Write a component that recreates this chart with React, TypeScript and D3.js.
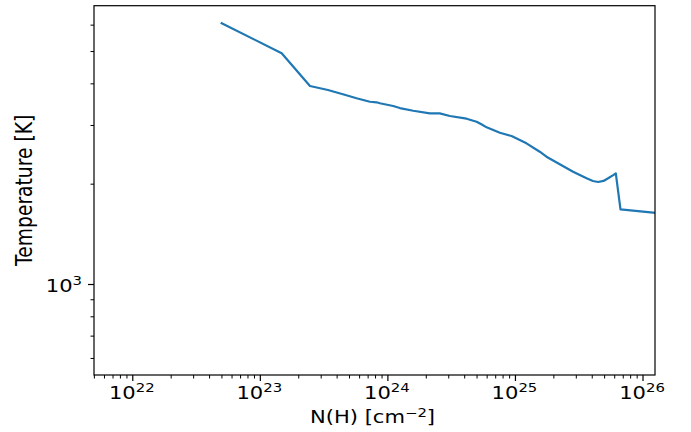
import React from "react";
import * as d3 from "d3";

// Column density N(H) [cm^-2]
const columnDensity: number[] = [
  4.89e22, 1.47e23, 2.45e23, 3.39e23, 4.44e23, 5.68e23, 7.23e23, 8.15e23, 8.65e23,
  1.10e24, 1.24e24, 1.58e24, 2.13e24, 2.55e24, 3.06e24, 4.14e24, 4.96e24, 5.45e24, 5.94e24,
  7.55e24, 9.32e24, 1.22e25, 1.55e25, 1.75e25, 2.83e25, 3.61e25, 4.05e25, 4.45e25, 4.90e25, 5.33e25,
  5.80e25, 6.12e25, 6.66e25, 1.20e26, 1.30e26,
];
// Temperature [K]
const temperature: number[] = [
  6104, 4940, 3941, 3833, 3722, 3621, 3535, 3521, 3497,
  3432, 3384, 3322, 3263, 3263, 3203, 3144, 3079, 3020, 2962,
  2853, 2789, 2652, 2503, 2418, 2180, 2083, 2045, 2030, 2045, 2083,
  2125, 2156, 1681, 1644, 1638,
];

const xMajorExp: number[] = [22, 23, 24, 25, 26];
const yMajorExp: number[] = [3];
const xLabel = "N(H) [cm";
const xLabelSup = "−2";
const yLabel = "Temperature [K]";

const W = 691;
const H = 432;
const L = 94, R = 655, T = 5.7, B = 375;

export default function App() {
  const x = d3.scaleLog().domain([Math.pow(10, 21.696), Math.pow(10, 26.094)]).range([L, R]);
  const y = d3.scaleLog().domain([Math.pow(10, 2.7285), Math.pow(10, 3.8365)]).range([B, T]);

  const pts = columnDensity.map((n, i) => [n, temperature[i]] as [number, number]);
  const line = d3.line<[number, number]>().x((d) => x(d[0])).y((d) => y(d[1]));

  const xMinor: number[] = [];
  for (let e = 21; e <= 26; e++) {
    for (let k = 2; k <= 9; k++) {
      const v = k * Math.pow(10, e);
      const px = x(v);
      if (px >= L && px <= R) xMinor.push(v);
    }
  }
  const yMinor: number[] = [];
  for (let e = 2; e <= 3; e++) {
    for (let k = 2; k <= 9; k++) {
      const v = k * Math.pow(10, e);
      const py = y(v);
      if (py >= T && py <= B) yMinor.push(v);
    }
  }

  const font = "DejaVu Sans, sans-serif";
  const fs = 17;
  const sfs = 12;
  const sx = 1.24;

  return (
    <svg width={W} height={H} style={{ position: "absolute", left: 0, top: 0, background: "#fff" }} fontFamily={font}>
      <defs>
        <clipPath id="plotclip">
          <rect x={L} y={T} width={R - L} height={B - T} />
        </clipPath>
      </defs>
      <rect x={0} y={0} width={W} height={H} fill="#fff" />
      <path d={line(pts) || ""} fill="none" stroke="#1f77b4" strokeWidth={2.2} strokeLinejoin="round" clipPath="url(#plotclip)" />
      <rect x={L} y={T} width={R - L} height={B - T} fill="none" stroke="#000" strokeWidth={1.2} />
      {xMinor.map((v, i) => (
        <line key={"xm" + i} x1={x(v)} x2={x(v)} y1={B} y2={B + 3.5} stroke="#000" strokeWidth={1} />
      ))}
      {xMajorExp.map((e) => (
        <g key={"xM" + e}>
          <line x1={x(Math.pow(10, e))} x2={x(Math.pow(10, e))} y1={B} y2={B + 6} stroke="#000" strokeWidth={1.2} />
          <text transform={`translate(${x(Math.pow(10, e)) - 1}, 398.5) scale(${sx}, 1)`} textAnchor="middle" fontSize={fs} fill="#000">
            <tspan>10</tspan>
            <tspan dy={-6.8} fontSize={sfs}>{String(e)}</tspan>
          </text>
        </g>
      ))}
      {yMinor.map((v, i) => (
        <line key={"ym" + i} x1={L} x2={L - 3.5} y1={y(v)} y2={y(v)} stroke="#000" strokeWidth={1} />
      ))}
      {yMajorExp.map((e) => (
        <g key={"yM" + e}>
          <line x1={L} x2={L - 6} y1={y(Math.pow(10, e))} y2={y(Math.pow(10, e))} stroke="#000" strokeWidth={1.2} />
          <text transform={`translate(82, ${y(Math.pow(10, e)) + 7.5}) scale(${sx}, 1)`} textAnchor="end" fontSize={fs} fill="#000">
            <tspan>10</tspan>
            <tspan dy={-6.8} fontSize={sfs}>{String(e)}</tspan>
          </text>
        </g>
      ))}
      <text transform={`translate(${(L + R) / 2 - 2}, 423) scale(${sx}, 1)`} textAnchor="middle" fontSize={fs} fill="#000">
        <tspan>{xLabel}</tspan>
        <tspan dy={-6.5} fontSize={sfs}>{xLabelSup}</tspan>
        <tspan dy={6.5}>]</tspan>
      </text>
      <text transform={`translate(31.7, ${(T + B) / 2}) rotate(-90) scale(1, ${sx})`} textAnchor="middle" fontSize={18.7} fill="#000">
        {yLabel}
      </text>
    </svg>
  );
}
